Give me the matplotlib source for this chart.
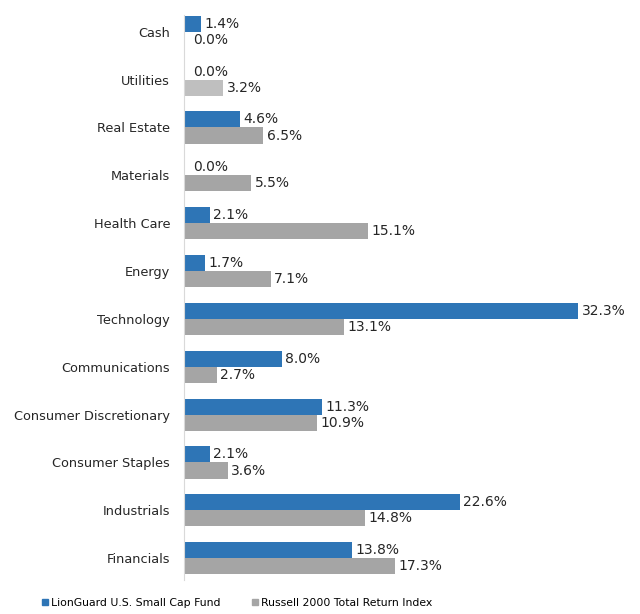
import numpy as np
import matplotlib.pyplot as plt
from matplotlib.lines import Line2D

categories = ['Cash', 'Utilities', 'Real Estate', 'Materials', 'Health Care', 'Energy',
              'Technology', 'Communications', 'Consumer Discretionary', 'Consumer Staples',
              'Industrials', 'Financials']
fund = [1.4, 0.0, 4.6, 0.0, 2.1, 1.7, 32.3, 8.0, 11.3, 2.1, 22.6, 13.8]
index = [0.0, 3.2, 6.5, 5.5, 15.1, 7.1, 13.1, 2.7, 10.9, 3.6, 14.8, 17.3]
series_names = ['LionGuard U.S. Small Cap Fund', 'Russell 2000 Total Return Index']

BLUE = '#2E75B6'
GRAY = '#A5A5A5'
LIGHT = '#BFBFBF'
TXT = '#262626'

plt.rcParams['font.family'] = ['DejaVu Sans']
plt.rcParams['font.size'] = 9.3

fig = plt.figure(figsize=(6.4, 6.14), dpi=100)
ax = fig.add_axes([0.2875, 0.055, 0.616, 0.921])

y = np.arange(len(categories))
h = 0.335
gray_colors = [LIGHT if c == 'Utilities' else GRAY for c in categories]
ax.barh(y - h / 2, fund, height=h, color=BLUE)
ax.barh(y + h / 2, index, height=h, color=gray_colors)

for i in range(len(categories)):
    for v, yy in [(fund[i], y[i] - h / 2), (index[i], y[i] + h / 2)]:
        ax.annotate(f'{v:.1f}%', (v, yy), xytext=(2.5 if v > 0 else 6.5, 0),
                    textcoords='offset points', va='center', ha='left', color=TXT, fontsize=10)

ax.set_xlim(0, 32.3)
ax.set_ylim(11.46, -0.356)
ax.set_yticks(y)
ax.set_yticklabels(categories, color=TXT)
ax.tick_params(axis='y', length=0, pad=10)
ax.set_xticks([])
for s in ['top', 'right', 'bottom']:
    ax.spines[s].set_visible(False)
ax.spines['left'].set_color('#D9D9D9')

handles = [Line2D([], [], marker='s', ls='', color=BLUE, markersize=5),
           Line2D([], [], marker='s', ls='', color=GRAY, markersize=5)]
fig.legend(handles, series_names, loc='center left', bbox_to_anchor=(0.062, 0.018), ncol=2,
           frameon=False, handletextpad=0.1, columnspacing=2.8, handlelength=0.9,
           borderaxespad=0, borderpad=0, fontsize=7.8)

fig.savefig('out.png', dpi=100)
